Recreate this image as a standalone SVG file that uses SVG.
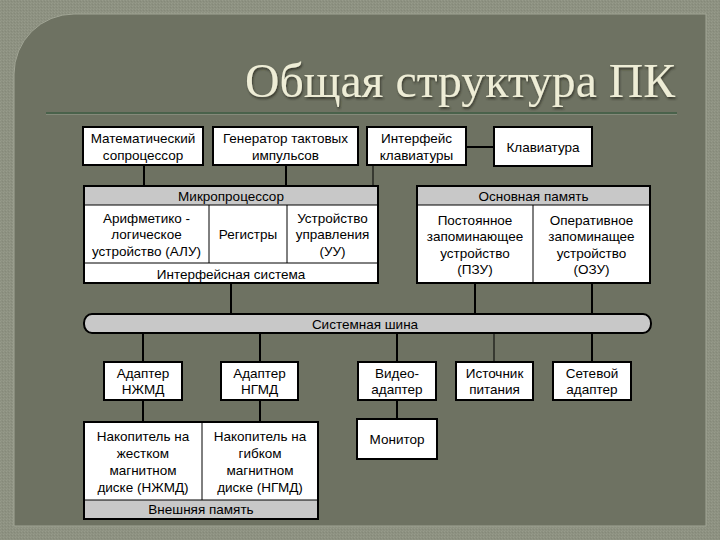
<svg xmlns="http://www.w3.org/2000/svg" width="720" height="540" viewBox="0 0 720 540">
  <defs>
    <pattern id="tex" width="3" height="3" patternUnits="userSpaceOnUse">
      <rect width="3" height="3" fill="#8d9181"/>
      <rect width="1" height="1" fill="#979b8b"/>
      <rect x="2" y="1" width="1" height="1" fill="#858979"/>
      <rect x="1" y="2" width="1" height="1" fill="#939787"/>
    </pattern>
    <filter id="shadow" x="-5%" y="-20%" width="110%" height="150%">
      <feDropShadow dx="1" dy="2" stdDeviation="1.2" flood-color="#2a2c22" flood-opacity="0.8"/>
    </filter>
    <style>
      .box { fill: #ffffff; stroke: #000000; stroke-width: 2; }
      .hdr { fill: #c8c8c8; stroke: none; }
      .sep { stroke: #000000; stroke-width: 1; fill: none; }
      .bus { fill: #c8c8c8; stroke: #000000; stroke-width: 2; }
      .wire { stroke: #000000; stroke-width: 2; fill: none; }
      .thin { stroke: #000000; stroke-width: 1; fill: none; }
      .t { font-family: "Liberation Sans", Arial, sans-serif; font-size: 13.5px; fill: #000000; text-anchor: middle; }
      .title { font-family: "Liberation Serif", "DejaVu Serif", serif; font-size: 48px; fill: #eeedd6; text-anchor: end; }
    </style>
  </defs>

  <!-- background -->
  <rect x="0" y="0" width="720" height="540" fill="url(#tex)"/>
  <path d="M14,74 A60,60 0 0 1 74,14 L706,14 L706,526 L14,526 Z" fill="#6e7262" stroke="#a2a696" stroke-width="1"/>

  <!-- title -->
  <g id="title">
    <text class="title" x="675" y="97" textLength="430" lengthAdjust="spacingAndGlyphs" filter="url(#shadow)">Общая структура ПК</text>
    <line x1="46" y1="113" x2="677" y2="113" stroke="#3f5e44" stroke-width="1.5"/>
    <line x1="46" y1="114.5" x2="677" y2="114.5" stroke="#8a9080" stroke-width="0.8"/>
  </g>

  <!-- connectors -->
  <g id="connectors">
    <line class="wire" x1="466" y1="147" x2="494" y2="147"/>
    <line class="wire" x1="144" y1="165" x2="144" y2="186"/>
    <line class="wire" x1="286" y1="165" x2="286" y2="186"/>
    <line class="thin" x1="373" y1="165" x2="373" y2="186"/>
    <line class="wire" x1="231" y1="283" x2="231" y2="314"/>
    <line class="wire" x1="475" y1="283" x2="475" y2="314"/>
    <line class="wire" x1="592" y1="283" x2="592" y2="314"/>
    <line class="wire" x1="143" y1="333" x2="143" y2="362"/>
    <line class="wire" x1="260" y1="333" x2="260" y2="362"/>
    <line class="wire" x1="397" y1="333" x2="397" y2="362"/>
    <line class="thin" x1="494" y1="333" x2="494" y2="362"/>
    <line class="wire" x1="592" y1="333" x2="592" y2="362"/>
    <line class="wire" x1="143" y1="400" x2="143" y2="422"/>
    <line class="wire" x1="260" y1="400" x2="260" y2="422"/>
    <line class="wire" x1="397" y1="400" x2="397" y2="419"/>
  </g>

  <!-- top row -->
  <g id="coprocessor">
    <rect class="box" x="83" y="127" width="120" height="38"/>
    <text class="t" x="143" y="142.5">Математический</text>
    <text class="t" x="143" y="159.5">сопроцессор</text>
  </g>
  <g id="clock">
    <rect class="box" x="213" y="127" width="145" height="38"/>
    <text class="t" x="285.5" y="142.5">Генератор тактовых</text>
    <text class="t" x="285.5" y="159.5">импульсов</text>
  </g>
  <g id="kbd-interface">
    <rect class="box" x="367" y="127" width="99" height="38"/>
    <text class="t" x="416.5" y="142.5">Интерфейс</text>
    <text class="t" x="416.5" y="159.5">клавиатуры</text>
  </g>
  <g id="keyboard">
    <rect class="box" x="494" y="127" width="98" height="39"/>
    <text class="t" x="543" y="151.5">Клавиатура</text>
  </g>

  <!-- microprocessor -->
  <g id="cpu">
    <rect class="box" x="84" y="186" width="294" height="97"/>
    <rect class="hdr" x="85" y="187" width="292" height="18"/>
    <line class="sep" x1="84" y1="205" x2="378" y2="205"/>
    <line class="sep" x1="84" y1="263" x2="378" y2="263"/>
    <line class="sep" x1="209" y1="205" x2="209" y2="263"/>
    <line class="sep" x1="287" y1="205" x2="287" y2="263"/>
    <text class="t" x="231" y="200.5">Микропроцессор</text>
    <text class="t" x="146.5" y="222.5">Арифметико -</text>
    <text class="t" x="146.5" y="239">логическое</text>
    <text class="t" x="146.5" y="255.5">устройство (АЛУ)</text>
    <text class="t" x="248" y="238.5">Регистры</text>
    <text class="t" x="332.5" y="222.5">Устройство</text>
    <text class="t" x="332.5" y="239">управления</text>
    <text class="t" x="332.5" y="255.5">(УУ)</text>
    <text class="t" x="231" y="278.5">Интерфейсная система</text>
  </g>

  <!-- main memory -->
  <g id="main-memory">
    <rect class="box" x="417" y="186" width="233" height="97"/>
    <rect class="hdr" x="418" y="187" width="231" height="18"/>
    <line class="sep" x1="417" y1="205" x2="650" y2="205"/>
    <line class="sep" x1="533" y1="205" x2="533" y2="283"/>
    <text class="t" x="533.5" y="200.5">Основная память</text>
    <text class="t" x="475" y="224.5">Постоянное</text>
    <text class="t" x="475" y="241">запоминающее</text>
    <text class="t" x="475" y="257.5">устройство</text>
    <text class="t" x="475" y="274">(ПЗУ)</text>
    <text class="t" x="591.5" y="224.5">Оперативное</text>
    <text class="t" x="591.5" y="241">запоминащее</text>
    <text class="t" x="591.5" y="257.5">устройство</text>
    <text class="t" x="591.5" y="274">(ОЗУ)</text>
  </g>

  <!-- system bus -->
  <g id="bus">
    <rect class="bus" x="84" y="314" width="567" height="19" rx="8" ry="9"/>
    <text class="t" x="365" y="328.5">Системная шина</text>
  </g>

  <!-- adapters -->
  <g id="hdd-adapter">
    <rect class="box" x="104" y="362" width="78" height="38"/>
    <text class="t" x="143" y="377.5">Адаптер</text>
    <text class="t" x="143" y="393.5">НЖМД</text>
  </g>
  <g id="fdd-adapter">
    <rect class="box" x="221" y="362" width="77" height="38"/>
    <text class="t" x="259.5" y="377.5">Адаптер</text>
    <text class="t" x="259.5" y="393.5">НГМД</text>
  </g>
  <g id="video-adapter">
    <rect class="box" x="358" y="362" width="78" height="38"/>
    <text class="t" x="397" y="377.5">Видео-</text>
    <text class="t" x="397" y="393.5">адаптер</text>
  </g>
  <g id="power">
    <rect class="box" x="456" y="362" width="77" height="38"/>
    <text class="t" x="494.5" y="377.5">Источник</text>
    <text class="t" x="494.5" y="393.5">питания</text>
  </g>
  <g id="net-adapter">
    <rect class="box" x="553" y="362" width="78" height="38"/>
    <text class="t" x="592" y="377.5">Сетевой</text>
    <text class="t" x="592" y="393.5">адаптер</text>
  </g>

  <!-- external memory -->
  <g id="ext-memory">
    <rect class="box" x="84" y="422" width="234" height="97"/>
    <rect class="hdr" x="85" y="500" width="232" height="18"/>
    <line class="sep" x1="84" y1="500" x2="318" y2="500"/>
    <line class="sep" x1="202" y1="422" x2="202" y2="500"/>
    <text class="t" x="143" y="440.5">Накопитель на</text>
    <text class="t" x="143" y="457.5">жестком</text>
    <text class="t" x="143" y="474.5">магнитном</text>
    <text class="t" x="143" y="491.5">диске (НЖМД)</text>
    <text class="t" x="260" y="440.5">Накопитель на</text>
    <text class="t" x="260" y="457.5">гибком</text>
    <text class="t" x="260" y="474.5">магнитном</text>
    <text class="t" x="260" y="491.5">диске (НГМД)</text>
    <text class="t" x="201" y="513.5">Внешняя память</text>
  </g>

  <!-- monitor -->
  <g id="monitor">
    <rect class="box" x="357" y="419" width="80" height="40"/>
    <text class="t" x="397" y="443.5">Монитор</text>
  </g>
</svg>
